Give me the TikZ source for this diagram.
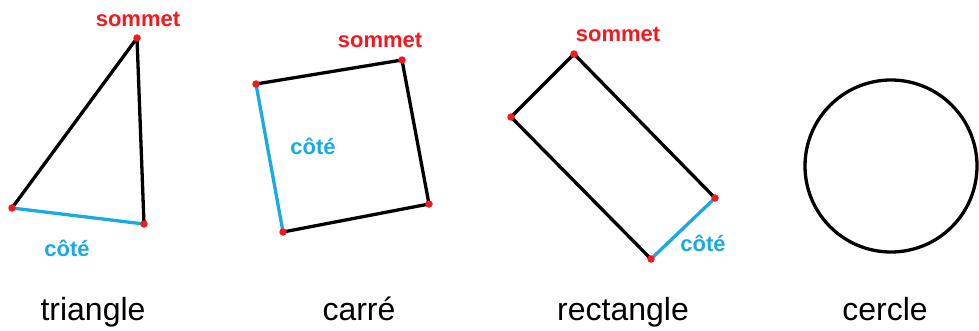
\documentclass[tikz,border=0pt]{standalone}
\usepackage{fontspec}
\setmainfont{Liberation Sans}
\definecolor{sommetred}{RGB}{245,25,30}
\definecolor{cotecyan}{RGB}{25,170,230}
\begin{document}
\begin{tikzpicture}[x=1pt,y=-1pt,
  side/.style={line width=3.3pt,line cap=round,line join=round},
  cote/.style={line width=3.3pt,cotecyan,line cap=round},
  vertex/.style={circle,fill=sommetred,inner sep=0pt,minimum size=7.5pt},
  sommetlbl/.style={font=\fontsize{22}{24}\selectfont\bfseries,text=sommetred,anchor=base,inner sep=0pt},
  cotelbl/.style={font=\fontsize{22}{24}\selectfont\bfseries,text=cotecyan,anchor=base,inner sep=0pt},
  shapelbl/.style={font=\fontsize{32}{34}\selectfont,anchor=base,inner sep=0pt}]
\useasboundingbox (0,0) rectangle (979,330);
% triangle
\coordinate (t1) at (137,38);
\coordinate (t2) at (12,208);
\coordinate (t3) at (144,224);
\draw[side] (t2)--(t1)--(t3);
\draw[cote] (t2)--(t3);
\foreach \v in {t1,t2,t3} \node[vertex] at (\v) {};
\node[sommetlbl] (tsommet) at (138,26) {sommet};
\node[cotelbl] (tcote) at (67,256) {côté};
\node[shapelbl] (tname) at (93,320) {triangle};
% carre
\coordinate (c1) at (256,84);
\coordinate (c2) at (402,60);
\coordinate (c3) at (429,204);
\coordinate (c4) at (283,232);
\draw[side] (c1)--(c2)--(c3)--(c4);
\draw[cote] (c4)--(c1);
\foreach \v in {c1,c2,c3,c4} \node[vertex] at (\v) {};
\node[sommetlbl] (csommet) at (380,47) {sommet};
\node[cotelbl] (ccote) at (313,154) {côté};
\node[shapelbl] (cname) at (359,320) {carré};
% rectangle
\coordinate (r1) at (574,54);
\coordinate (r2) at (511,117);
\coordinate (r3) at (651,259);
\coordinate (r4) at (715,198);
\draw[side] (r4)--(r1)--(r2)--(r3);
\draw[cote] (r3)--(r4);
\foreach \v in {r1,r2,r3,r4} \node[vertex] at (\v) {};
\node[sommetlbl] (rsommet) at (618,41) {sommet};
\node[cotelbl] (rcote) at (703,251) {côté};
\node[shapelbl] (rname) at (623,320) {rectangle};
% cercle
\draw[side] (891,166) circle (86);
\node[shapelbl] (ename) at (885,320) {cercle};
\end{tikzpicture}
\end{document}
